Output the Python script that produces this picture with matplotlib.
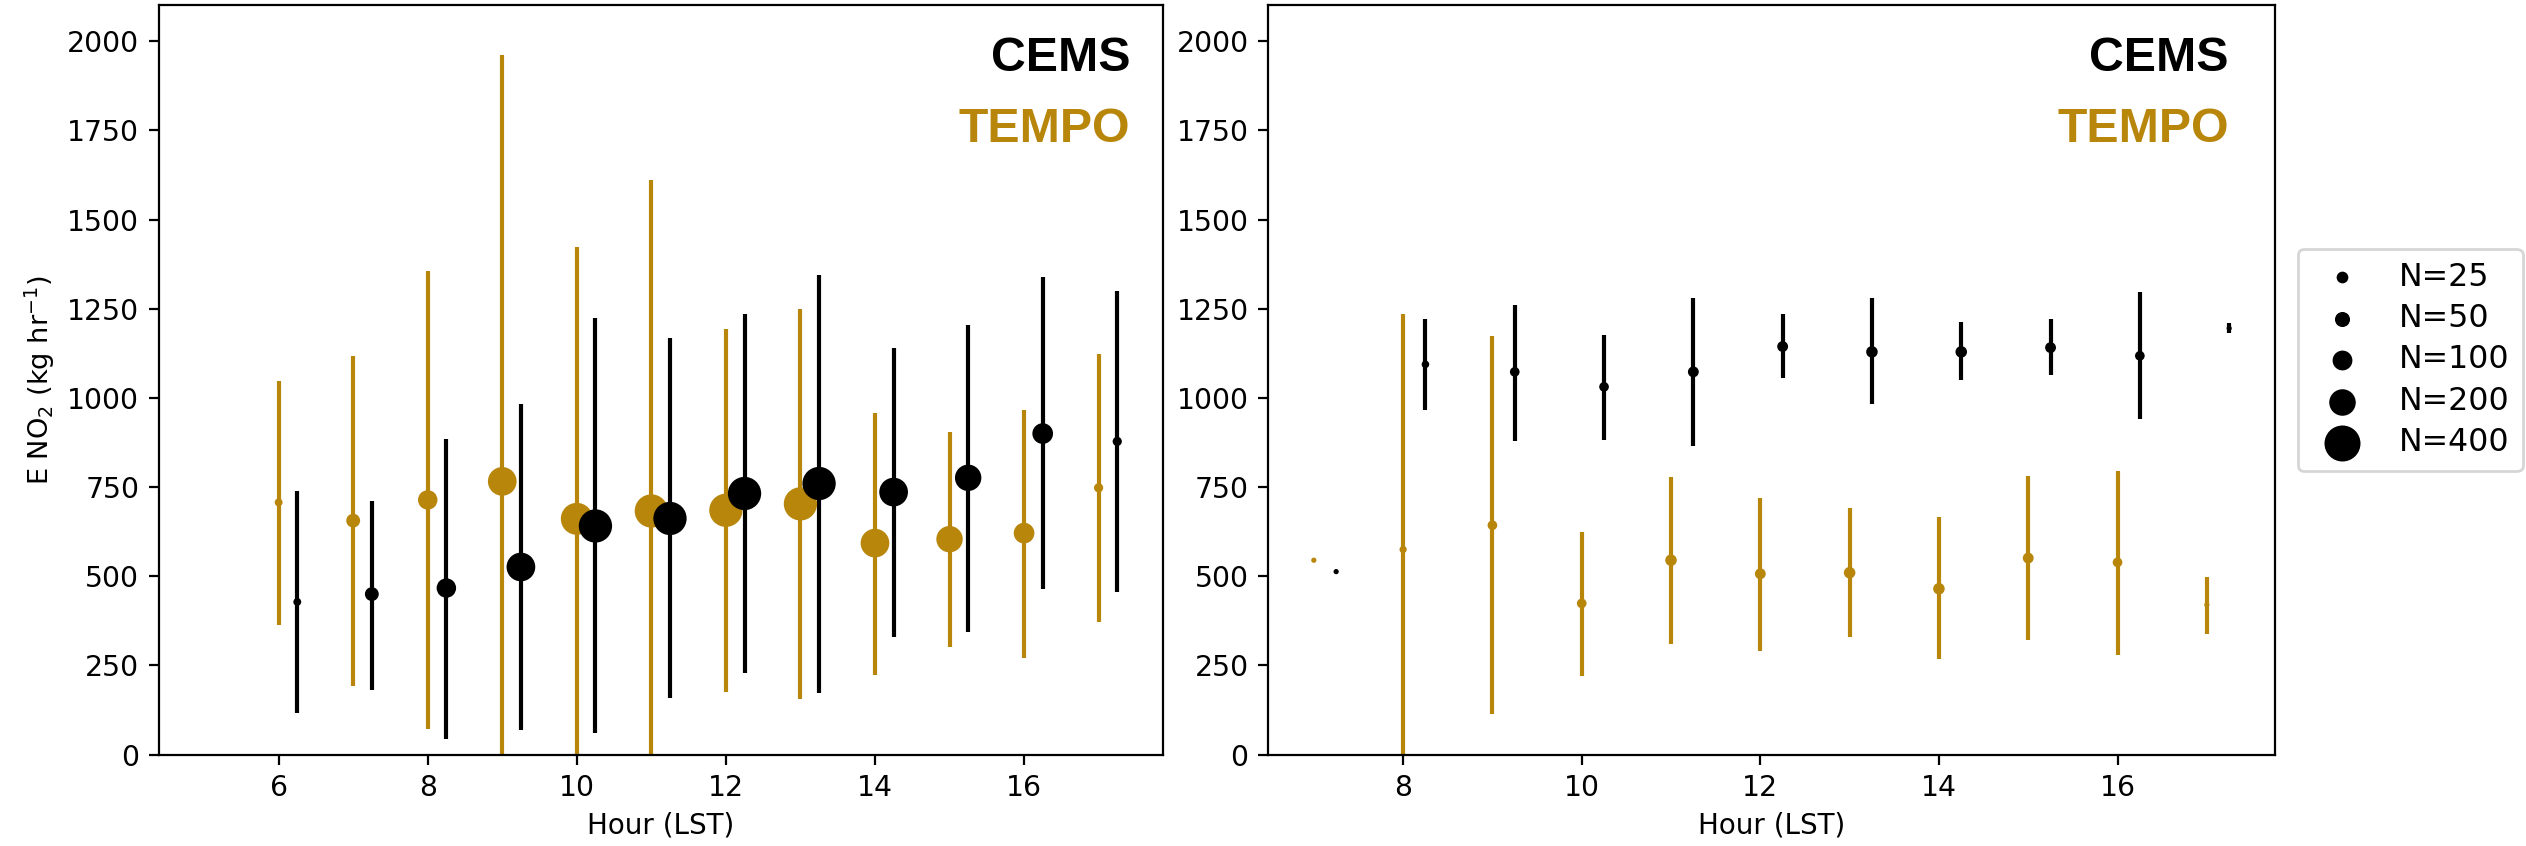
import numpy as np
import matplotlib
matplotlib.use("Agg")
import matplotlib.pyplot as plt

# ---------------- data ----------------
# Left panel
hours_tempo_L = [6, 7, 8, 9, 10, 11, 12, 13, 14, 15, 16, 17]
tempo_L = [707, 656, 714, 766, 661, 683, 685, 703, 593, 604, 621, 748]
tempo_L_lo = [364, 191, 73, -100, -100, -100, 176, 156, 224, 303, 270, 373]
tempo_L_hi = [1048, 1118, 1356, 1962, 1423, 1611, 1192, 1250, 959, 905, 967, 1124]
tempo_L_n = [7, 40, 96, 240, 307, 336, 336, 336, 240, 198, 111, 12]

hours_cems_L = [6.25, 7.25, 8.25, 9.25, 10.25, 11.25, 12.25, 13.25, 14.25, 15.25, 16.25, 17.25]
cems_L = [428, 450, 467, 526, 641, 662, 732, 760, 736, 776, 900, 878]
cems_L_lo = [118, 182, 45, 70, 62, 159, 229, 174, 330, 345, 464, 456]
cems_L_hi = [739, 712, 886, 982, 1224, 1167, 1235, 1345, 1141, 1205, 1338, 1300]
cems_L_n = [7, 40, 96, 240, 336, 336, 336, 336, 240, 198, 111, 12]

# Right panel
hours_tempo_R = [7, 8, 9, 10, 11, 12, 13, 14, 15, 16, 17]
tempo_R = [545, 575, 643, 424, 545, 507, 510, 465, 551, 539, 420]
tempo_R_lo = [545, -100, 113, 220, 309, 291, 329, 267, 320, 279, 337]
tempo_R_hi = [545, 1235, 1174, 625, 779, 720, 690, 666, 782, 795, 497]
tempo_R_n = [1, 5, 14, 14, 24, 20, 24, 24, 20, 14, 1]

hours_cems_R = [7.25, 8.25, 9.25, 10.25, 11.25, 12.25, 13.25, 14.25, 15.25, 16.25, 17.25]
cems_R = [513, 1094, 1073, 1031, 1073, 1144, 1129, 1129, 1141, 1118, 1195]
cems_R_lo = [513, 966, 880, 883, 865, 1057, 983, 1049, 1064, 940, 1182]
cems_R_hi = [513, 1220, 1260, 1177, 1280, 1235, 1280, 1214, 1220, 1297, 1209]
cems_R_n = [1, 6, 14, 14, 20, 20, 24, 24, 20, 14, 1]

legend_n = [25, 50, 100, 200, 400]
xticks_L = [6, 8, 10, 12, 14, 16]
xticks_R = [8, 10, 12, 14, 16]
yticks = [0, 250, 500, 750, 1000, 1250, 1500, 1750, 2000]

GOLD = "#B8860B"
BLACK = "black"


def msize(n):
    n = np.asarray(n, dtype=float)
    return (1.3 + 0.583 * np.sqrt(n)) ** 2


def draw(ax, x, y, lo, hi, n, color):
    y = np.asarray(y, float)
    yerr = np.vstack([y - np.asarray(lo, float), np.asarray(hi, float) - y])
    ax.errorbar(x, y, yerr=yerr, fmt="none", ecolor=color, elinewidth=1.5,
                capsize=0, zorder=2)
    ax.scatter(x, y, s=msize(n), color=color, linewidths=0, zorder=3)


fig = plt.figure(figsize=(12.63, 4.23), dpi=200)
axL = fig.add_axes([0.0628, 0.108, 0.3975, 0.8855])
axR = fig.add_axes([0.502, 0.108, 0.3986, 0.8855])

draw(axL, hours_tempo_L, tempo_L, tempo_L_lo, tempo_L_hi, tempo_L_n, GOLD)
draw(axL, hours_cems_L, cems_L, cems_L_lo, cems_L_hi, cems_L_n, BLACK)
draw(axR, hours_tempo_R, tempo_R, tempo_R_lo, tempo_R_hi, tempo_R_n, GOLD)
draw(axR, hours_cems_R, cems_R, cems_R_lo, cems_R_hi, cems_R_n, BLACK)

axL.set_xlim(4.39, 17.86)
axR.set_xlim(6.4875, 17.7625)
for ax, xt, tx in ((axL, xticks_L, 0.9675), (axR, xticks_R, 0.954)):
    ax.set_ylim(0, 2100)
    ax.set_yticks(yticks)
    ax.set_xticks(xt)
    ax.tick_params(labelsize=10.2)
    ax.set_xlabel("Hour (LST)", fontsize=10, labelpad=3.5)
    ax.text(tx, 0.912, "CEMS", transform=ax.transAxes, ha="right", va="baseline",
            fontsize=17.4, fontweight="bold", color=BLACK, family="Liberation Sans")
    ax.text(tx, 0.818, "TEMPO", transform=ax.transAxes, ha="right", va="baseline",
            fontsize=17.4, fontweight="bold", color=GOLD, family="Liberation Sans")

axL.set_ylabel("E NO$_2$ (kg hr$^{-1}$)", fontsize=9.8, labelpad=3.5)

handles = [axR.scatter([], [], s=msize(v), color="black", linewidths=0, label=f"N={v}")
           for v in legend_n]
fig.legend(handles=handles, loc="center left", bbox_to_anchor=(0.9097, 0.5745),
           borderaxespad=0, fontsize=11.4, labelspacing=0.33)

fig.savefig("out.png", dpi=200)
